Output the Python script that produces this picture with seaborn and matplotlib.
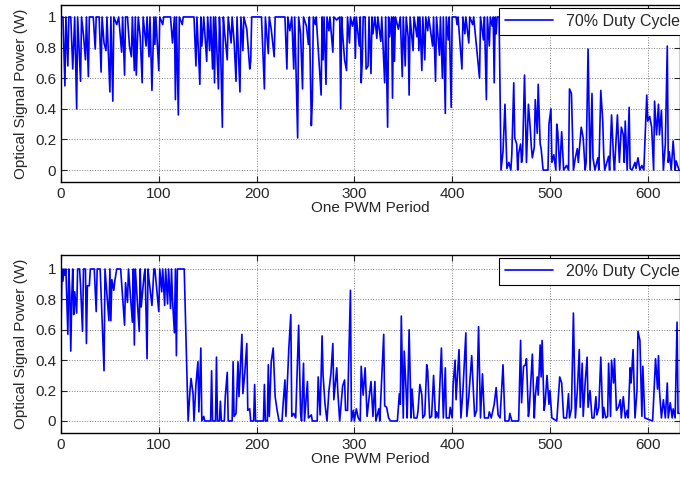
import matplotlib.pyplot as plt
import seaborn as sns
import pandas as pd

# (period, power) vertices, 70% duty cycle
duty70_a = [(0, 1), (2, 1), (4, .55), (5, 1), (7, .68), (8, 1), (10, 1), (12, .66), (14, 1), (16, .40), (17, 1),
            (20, .58), (21, 1), (23, .88), (25, .72), (26, 1), (28, .61), (29, 1), (33, 1), (35, .79), (36, 1),
            (39, 1), (41, .64), (42, 1), (44, .83), (46, .78), (47, 1), (50, .51), (51, 1), (53, .45), (54, 1),
            (57, .95), (59, 1), (62, .77), (63, 1), (65, .62), (66, 1), (68, 1), (70, .81), (72, .74), (73, 1),
            (75, .65), (76, 1), (77, .62), (79, 1), (81, .87), (83, .57), (84, 1), (87, .81), (88, 1), (90, .74),
            (91, 1), (93, .52), (95, 1), (96, .82), (97, 1), (100, .65)]
duty70_b = [(101, 1), (104, .95), (105, 1), (112, 1), (114, .83), (116, 1), (117, .46), (118, 1), (120, .36),
            (121, 1), (124, .95), (125, 1), (136, 1), (138, .68), (139, 1), (142, .56), (143, 1), (144, .81),
            (146, 1), (149, .71), (150, 1), (152, .78), (153, 1), (155, .66), (156, 1), (157, .57), (158, 1),
            (161, .53), (162, 1), (163, .86), (165, .28), (166, 1), (167, .92), (170, .72), (171, 1), (174, .83),
            (175, 1), (177, .84), (179, .58), (180, 1), (183, .51), (184, 1), (186, .78), (187, 1), (190, .92),
            (193, .66), (194, .71), (195, 1), (205, 1)]
duty70_c = [(208, .53), (209, 1), (212, .76), (213, 1), (215, .92), (218, .74), (219, 1), (229, 1), (231, .66),
            (232, 1), (234, .91), (236, 1), (238, .66), (239, 1), (242, .21), (243, 1), (245, .89), (247, .53),
            (248, 1), (251, .94), (253, .82), (254, 1), (256, .29), (257, .45), (258, 1), (260, .95), (261, 1),
            (266, .49), (267, 1), (268, .72), (269, 1), (271, .56), (272, 1), (274, .91), (275, 1), (278, .77),
            (279, 1), (282, .98), (285, 1), (286, .40), (287, 1), (288, .89), (290, .72), (292, .65), (293, 1),
            (295, .83), (296, 1), (298, .94), (300, 1)]
duty70_d = [(301, .73), (302, 1), (305, .81), (306, 1), (307, .57), (308, .70), (309, 1), (311, 1), (312, .66),
            (314, .68), (315, 1), (317, .63), (318, 1), (319, .89), (321, 1), (323, .86), (324, 1), (327, .84),
            (328, 1), (331, .57), (332, 1), (334, .28), (335, 1), (336, .87), (338, 1), (339, .47), (340, 1),
            (341, .71), (342, 1), (345, .92), (347, 1), (349, .61), (350, 1), (352, .68), (353, 1), (355, .87),
            (356, .49), (357, 1), (360, .78), (361, 1), (364, .87), (365, 1), (366, .78), (367, 1), (369, .65),
            (370, 1), (372, .72), (373, 1), (375, .91), (376, 1), (380, .81), (381, 1), (383, .58), (384, 1),
            (387, .75), (388, 1), (390, .60), (391, 1), (393, .37), (394, 1), (396, .85), (397, 1), (399, .41),
            (400, 1)]
duty70_e = [(404, 1), (405, .95), (406, 1), (410, .66), (411, 1), (413, .89), (414, 1), (417, .83), (418, 1),
            (421, .95), (422, 1), (428, .60), (429, 1), (432, .85), (433, 1), (435, .46), (436, 1), (438, .81),
            (439, 1), (441, .94), (442, 1), (443, .57), (444, 1), (445, .89), (446, 1), (448, 1), (450, 0),
            (452, .12), (454, .43), (456, .01), (458, .05), (460, 0), (461, .10), (463, .57), (464, .21),
            (466, .17), (467, 0), (468, .11), (470, .17), (471, .05), (472, .10), (474, .62), (476, .05),
            (478, .43), (480, .26), (481, .15), (482, .08), (484, .15), (485, .46), (487, .24), (488, .56),
            (490, .17), (491, .14), (493, 0), (498, 0), (499, .30), (501, .40), (502, .05), (504, .10), (506, 0)]
duty70_f = [(507, .30), (508, .25), (510, 0), (512, .25), (514, 0), (517, .03), (519, 0), (520, .53), (522, .50),
            (524, 0), (526, .08), (528, .14), (529, .05), (532, .28), (534, .21), (536, 0), (537, .05), (539, .79),
            (541, 0), (543, .50), (544, .08), (546, 0), (549, .08), (550, 0), (552, .52), (554, .32), (555, .10),
            (556, 0), (560, .09), (561, 0), (563, .36), (565, .08), (566, 0), (569, .36), (571, .05), (573, .28),
            (575, .23), (576, .05), (577, .32), (579, 0), (581, .41), (582, .01), (584, 0), (587, .05), (588, .01),
            (590, .08), (592, 0), (594, .03), (596, 0), (599, .49), (600, .32), (602, .35), (604, .28), (606, 0),
            (607, .45), (609, .23), (611, .43), (612, .23), (614, .39), (616, 0), (618, .17), (620, .81),
            (621, .05), (622, .12), (624, 0), (626, .19), (628, 0), (629, .06), (632, 0)]

# (period, power) vertices, 20% duty cycle
duty20_a = [(0, .60), (1, 1), (2, .92), (3, 1), (4, .96), (5, 1), (7, .57), (8, 1), (9, .84), (10, .46), (11, .81),
            (12, 1), (13, .70), (14, .85), (16, .71), (17, 1), (19, 1), (20, .89), (22, .59), (23, 1), (25, 1),
            (26, .51), (27, .89), (29, .89), (30, 1), (34, 1), (36, .72), (37, 1), (40, 1), (41, .84), (44, .33),
            (45, 1), (49, .66), (50, 1), (51, .66), (52, .93), (54, .86), (55, .92), (57, 1), (61, 1), (65, .63),
            (66, .91), (68, .78), (69, 1), (73, .65), (74, 1), (75, .50), (76, 1), (78, .80), (80, .59), (81, 1),
            (82, .75), (85, .96), (86, 1), (88, .41), (89, 1), (90, .93), (93, .76), (95, 1), (96, 1), (100, .72)]
duty20_b = [(101, 1), (103, .85), (104, 1), (106, .76), (107, 1), (109, .77), (110, 1), (112, .74), (113, 1),
            (114, .80), (116, .58), (117, 1), (118, .43), (119, 1), (126, 1), (130, 0), (132, .21), (133, .28),
            (135, .18), (136, 0), (138, .24), (140, .39), (141, .06), (143, .48), (144, 0), (146, .03), (147, 0),
            (153, 0), (154, .33), (155, 0), (158, 0), (159, .42), (160, 0), (162, 0), (163, .13), (164, 0),
            (167, 0), (168, .16), (170, .32), (171, 0), (175, 0), (176, .39), (177, .03), (179, .05), (181, .39),
            (182, .16), (185, .57), (186, .18), (188, .32), (190, .51), (191, .07), (193, .08), (194, 0), (197, 0),
            (198, .24), (199, 0)]
duty20_c = [(207, 0), (208, .24), (209, 0), (211, 0), (212, .37), (213, .03), (215, .39), (217, .48), (219, .16),
            (221, .07), (223, 0), (226, 0), (227, .10), (229, .27), (230, .03), (233, .48), (235, .70), (236, .03),
            (238, .05), (240, .02), (243, .63), (245, .05), (246, 0), (248, .38), (249, 0), (252, .26), (253, .02),
            (256, .04), (257, 0), (262, 0), (263, .29), (265, .04), (267, .56), (268, .30), (270, .11), (272, 0),
            (274, .20), (276, .31), (278, .51), (279, .14), (282, .35), (283, .20), (285, 0), (288, .23),
            (290, .27), (291, .07), (293, .07), (296, .86), (297, 0), (299, .07), (300, 0)]
duty20_d = [(302, .08), (304, .02), (306, 0), (307, .36), (309, .17), (311, .35), (313, .03), (315, .15),
            (317, .26), (319, .03), (321, .26), (322, 0), (325, .08), (326, 0), (330, .57), (331, .10), (333, .09),
            (335, .02), (337, 0), (344, 0), (346, .18), (347, .11), (348, .69), (350, .02), (351, .46), (353, .19),
            (354, .02), (356, .60), (358, .02), (359, .21), (361, .02), (364, .02), (365, .06), (367, .24),
            (369, .17), (370, .02), (372, .04), (374, .37), (375, .33), (377, .02), (379, .03), (381, .30),
            (383, .02), (384, .06), (386, .02), (387, .17), (389, .48), (391, .02), (393, .35), (394, .02),
            (397, .02), (398, .09), (400, .02)]
duty20_e = [(401, .24), (403, .40), (404, .14), (407, .47), (409, .02), (411, .20), (414, .58), (415, .03),
            (417, .16), (420, .43), (421, .29), (423, .03), (425, .07), (427, .62), (429, .02), (431, .31),
            (433, .02), (437, .02), (438, .06), (440, .02), (443, .11), (445, .22), (447, .04), (449, .02),
            (452, .37), (454, 0), (458, 0), (459, .05), (461, 0), (468, 0), (470, .53), (471, .12), (473, .36),
            (475, .37), (476, .41), (478, .03), (479, .09), (482, .44), (484, .02), (485, .16), (487, .29),
            (488, .17), (490, .50), (491, .29), (492, .53), (494, .07), (495, .11), (497, .30), (499, .11),
            (500, .20), (502, .02)]
duty20_f = [(507, 0), (510, .29), (512, .25), (514, .02), (517, .02), (519, .18), (520, .02), (522, .08),
            (524, .71), (526, .02), (528, .20), (530, .47), (531, .09), (533, .38), (534, .03), (536, .25),
            (538, .42), (539, .09), (541, .20), (543, .02), (545, .02), (547, .16), (548, .04), (550, .09),
            (552, .42), (554, .02), (555, .09), (557, .02), (559, .03), (560, .38), (562, .03), (563, .40),
            (565, .25), (566, .41), (568, .07), (570, .09), (572, .14), (573, .02), (575, .16), (577, .02),
            (579, .07), (580, .02), (582, .35), (583, .25), (585, .47), (587, .02), (589, .20), (590, .59),
            (592, .53), (594, .03), (595, .36), (597, .02), (605, 0), (608, .41), (610, .21), (611, .43),
            (612, .20), (614, .02), (616, .14), (618, .02), (620, .25), (621, .02), (623, .12), (625, .02),
            (626, .08), (628, .02), (630, .65), (631, .05), (632, .05)]

labels = ['70% Duty Cycle', '20% Duty Cycle']
yticks = [0, 0.2, 0.4, 0.6, 0.8, 1]
ytick_labels = ['0', '0.2', '0.4', '0.6', '0.8', '1']

df70 = pd.DataFrame(duty70_a + duty70_b + duty70_c + duty70_d + duty70_e + duty70_f, columns=['period', 'power'])
df20 = pd.DataFrame(duty20_a + duty20_b + duty20_c + duty20_d + duty20_e + duty20_f, columns=['period', 'power'])

sns.set_style('ticks')
plt.rcParams['font.family'] = ['Liberation Sans', 'DejaVu Sans']

fig = plt.figure(figsize=(6.8, 4.8), dpi=100)
ax1 = fig.add_axes([61/680, 1-182/480, 1-61/680, 177/480])
ax2 = fig.add_axes([61/680, 1-433/480, 1-61/680, 178/480])

for ax, df, label, ylim in [(ax1, df70, labels[0], (-0.078, 1.078)), (ax2, df20, labels[1], (-0.079, 1.092))]:
    sns.lineplot(data=df, x='period', y='power', ax=ax, color='#0000ff', linewidth=1.2,
                 estimator=None, sort=False, label=label)
    ax.set_xlim(0, 633)
    ax.set_ylim(*ylim)
    ax.set_xticks(range(0, 601, 100))
    ax.set_yticks(yticks)
    ax.set_yticklabels(ytick_labels)
    ax.grid(True, linestyle=':', color='k', linewidth=0.7, alpha=0.5)
    ax.tick_params(direction='in', top=True, right=True, labelsize=11, length=4, width=0.8)
    for s in ax.spines.values():
        s.set_linewidth(1)
        s.set_color('k')
    ax.set_xlabel('One PWM Period', fontsize=11, labelpad=0)
    ax.set_ylabel('Optical Signal Power (W)', fontsize=11, labelpad=5)
    leg = ax.legend(loc='upper right', bbox_to_anchor=(1.01, 0.985), fancybox=False, edgecolor='k',
                    framealpha=1, fontsize=11.5, borderaxespad=0, handlelength=3)
    leg.get_frame().set_linewidth(0.8)

fig.savefig('out.png', dpi=100)
